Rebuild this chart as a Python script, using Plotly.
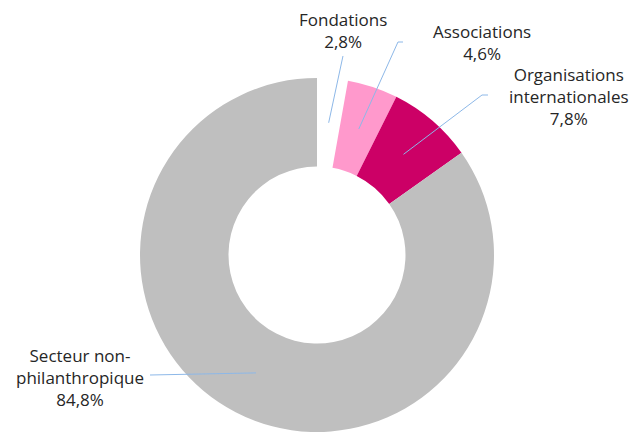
import numpy as np
import plotly.graph_objects as go

labels = ["Fondations", "Associations", "Organisations<br>internationales", "Secteur non-<br>philanthropique"]
values = [2.8, 4.6, 7.8, 84.8]
pct_text = ["2,8%", "4,6%", "7,8%", "84,8%"]
colors = ["#FFFFFF", "#FF99CC", "#CC0066", "#BFBFBF"]

# the page body adds an 8px margin, so the figure is drawn 8px smaller
OFF = 8
W, H = 638 - OFF, 432 - OFF
cx, cy, R = 317 - OFF, 255 - OFF, 177   # donut centre and outer radius, px
hole = 0.5

# label placement (screen px): text centre, and leader line end / elbow points
text_pos = [(343, 30), (482, 42), (569, 97), (80, 377)]
leader_pts = [[(343, 56)], [(398, 42), (403, 42)], [(482, 95), (488, 95)], [(150, 375)]]

fig = go.Figure(go.Pie(
    labels=labels, values=values, sort=False, direction="clockwise", rotation=0,
    hole=hole, marker=dict(colors=colors, line=dict(width=0)),
    textinfo="none", hoverinfo="label+percent", showlegend=False,
    domain=dict(x=[(cx - R) / W, (cx + R) / W], y=[(H - cy - R) / H, (H - cy + R) / H]),
))

def px2paper(x, y):
    return (x - OFF) / W, 1 - (y - OFF) / H

cum = np.cumsum(values) - np.array(values) / 2
mid_r = R * (1 + hole) / 2
for i, lab in enumerate(labels):
    ang = np.deg2rad(cum[i] / sum(values) * 360)
    tip = (cx + OFF + mid_r * np.sin(ang), cy + OFF - mid_r * np.cos(ang))
    pts = [tip] + leader_pts[i]
    path = ""
    for j, (x, y) in enumerate(pts):
        px_, py_ = px2paper(x, y)
        path += ("M" if j == 0 else " L") + f" {px_:.4f} {py_:.4f}"
    fig.add_shape(type="path", path=path, xref="paper", yref="paper",
                  line=dict(color="#8DB8E8", width=1))
    tx, ty = px2paper(*text_pos[i])
    fig.add_annotation(x=tx, y=ty, xref="paper", yref="paper", showarrow=False,
                       xanchor="center", yanchor="middle", borderpad=0,
                       text=f"{lab}<br>{pct_text[i]}", align="center",
                       font=dict(size=17, color="#262626", family="Open Sans"))

fig.update_layout(width=W, height=H, margin=dict(l=0, r=0, t=0, b=0),
                  paper_bgcolor="white", plot_bgcolor="white")
fig.write_html("out.html")
